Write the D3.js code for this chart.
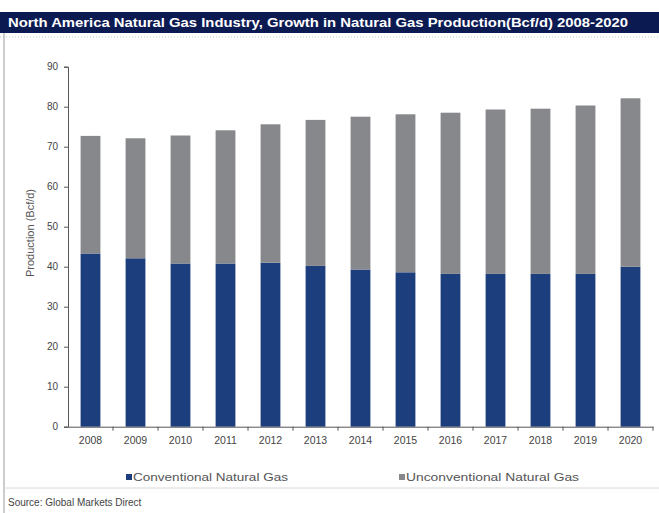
<!DOCTYPE html>
<html>
<head>
<meta charset="utf-8">
<script src="https://cdn.jsdelivr.net/npm/d3@7"></script>
<style>
  body { margin: 0; background: #fff; }
  svg { display: block; font-family: "Liberation Sans", Arial, sans-serif; }
</style>
</head>
<body>
<div id="chart"></div>
<script>
// chart data
var years = ['2008','2009','2010','2011','2012','2013','2014','2015','2016','2017','2018','2019','2020'];
var conventional = [43.3, 42.1, 40.8, 40.8, 41.0, 40.2, 39.3, 38.6, 38.2, 38.2, 38.2, 38.2, 40.0];
var totals = [72.7, 72.1, 72.8, 74.1, 75.6, 76.7, 77.5, 78.1, 78.5, 79.3, 79.5, 80.3, 82.1];
var unconventional = totals.map(function(t, i) { return +(t - conventional[i]).toFixed(1); });
var yTicks = [0, 10, 20, 30, 40, 50, 60, 70, 80, 90];
var seriesNames = ['Conventional Natural Gas', 'Unconventional Natural Gas'];
var seriesColors = ['#1c3e7c', '#87888b'];

var title = 'North America Natural Gas Industry, Growth in Natural Gas Production(Bcf/d) 2008-2020';
var yTitle = 'Production (Bcf/d)';
var source = 'Source: Global Markets Direct';

var W = 659, H = 513;
var svg = d3.select('#chart').append('svg')
  .attr('width', W)
  .attr('height', H);

//title bar
svg.append('rect')
  .attr('x', 0).attr('y', 12)
  .attr('width', W).attr('height', 21)
  .attr('fill', '#0c1a52');
svg.append('text')
  .attr('x', 8).attr('y', 27)
  .attr('fill', '#fff')
  .attr('font-size', 13)
  .attr('font-weight', 'bold')
  .attr('textLength', 620)
  .attr('lengthAdjust', 'spacingAndGlyphs')
  .text(title);

//dotted rule under title, frame lines
svg.append('line')
  .attr('x1', 0).attr('x2', W).attr('y1', 37).attr('y2', 37)
  .attr('stroke', '#c8c8c8').attr('stroke-dasharray', '1,2');
svg.append('line')
  .attr('x1', 4).attr('x2', 4).attr('y1', 33).attr('y2', H)
  .attr('stroke', '#9a9a9a');
svg.append('line')
  .attr('x1', 4).attr('x2', W).attr('y1', 488).attr('y2', 488)
  .attr('stroke', '#d8d8d8');

//plot area
var plot = {left: 68, right: 653, top: 66.7, bottom: 426.7};

var x = d3.scaleBand()
  .domain(years)
  .range([plot.left, plot.right])
  .paddingInner(0.56)
  .paddingOuter(0.28);

var y = d3.scaleLinear()
  .domain([0, 90])
  .range([plot.bottom, plot.top]);

//stack the two series
var rows = years.map(function(yr, i) {
  return {year: yr, conv: conventional[i], unconv: unconventional[i]};
});
var stack = d3.stack().keys(['conv', 'unconv'])(rows);

svg.append('g')
  .selectAll('g')
  .data(stack)
  .join('g')
  .attr('fill', function(d, i) { return seriesColors[i]; })
  .selectAll('rect')
  .data(function(d) { return d; })
  .join('rect')
  .attr('x', function(d) { return x(d.data.year); })
  .attr('y', function(d) { return y(d[1]); })
  .attr('width', x.bandwidth())
  .attr('height', function(d) { return y(d[0]) - y(d[1]); });

//y axis
var yAxis = svg.append('g')
  .attr('transform', 'translate(' + plot.left + ',0)')
  .call(d3.axisLeft(y).tickValues(yTicks).tickSize(4).tickPadding(6));
yAxis.select('.domain').attr('stroke', '#555');
yAxis.selectAll('.tick line').attr('stroke', '#555');
yAxis.selectAll('text')
  .attr('fill', '#444')
  .attr('font-size', 10)
  .attr('font-family', '"Liberation Sans", Arial, sans-serif');

svg.append('text')
  .attr('transform', 'translate(34,233) rotate(-90)')
  .attr('text-anchor', 'middle')
  .attr('fill', '#555')
  .attr('font-size', 11)
  .text(yTitle);

//x axis, ticks sit between the categories
var xAxis = svg.append('g')
  .attr('transform', 'translate(0,' + plot.bottom + ')')
  .call(d3.axisBottom(x).tickSize(0).tickPadding(10));
xAxis.select('.domain').attr('stroke', '#555');
xAxis.selectAll('text')
  .attr('fill', '#444')
  .attr('font-size', 10.5)
  .attr('font-family', '"Liberation Sans", Arial, sans-serif');

var step = x.step();
svg.append('g')
  .selectAll('line')
  .data(years)
  .join('line')
  .attr('x1', function(d) { return x(d) + x.bandwidth() / 2 + step / 2; })
  .attr('x2', function(d) { return x(d) + x.bandwidth() / 2 + step / 2; })
  .attr('y1', plot.bottom)
  .attr('y2', plot.bottom + 4)
  .attr('stroke', '#555');

//legend
var legendX = [126, 399];
var legendW = [162, 180];
var legend = svg.append('g')
  .selectAll('g')
  .data(seriesNames)
  .join('g')
  .attr('transform', function(d, i) { return 'translate(' + legendX[i] + ',478)'; });
legend.append('rect')
  .attr('x', 0).attr('y', -4)
  .attr('width', 6).attr('height', 6)
  .attr('fill', function(d, i) { return seriesColors[i]; });
legend.append('text')
  .attr('x', 7).attr('y', 3)
  .attr('fill', '#555')
  .attr('font-size', 11)
  .attr('textLength', function(d, i) { return legendW[i] - 7; })
  .attr('lengthAdjust', 'spacingAndGlyphs')
  .text(function(d) { return d; });

//source line
svg.append('text')
  .attr('x', 8).attr('y', 506)
  .attr('fill', '#444')
  .attr('font-size', 10)
  .text(source);
</script>
</body>
</html>
